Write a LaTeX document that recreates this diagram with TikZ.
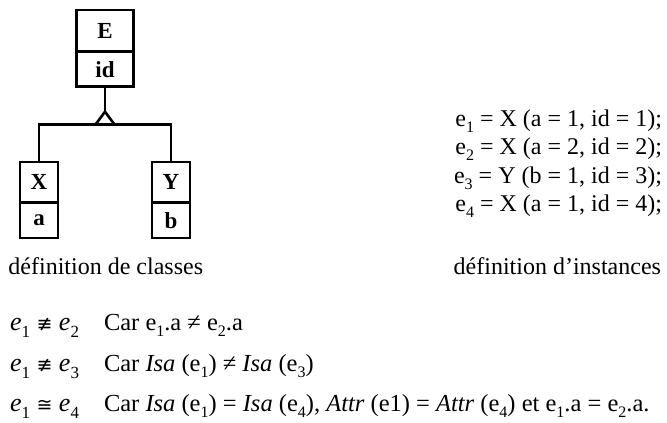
\documentclass[tikz,border=0pt]{standalone}
\usepackage{fontspec}
\setmainfont{Liberation Serif}
\newfontfamily\symfont{DejaVu Sans}
\newcommand{\sbs}[1]{\raisebox{-0.27em}{\fontsize{16}{16}\selectfont #1}}
\newcommand{\msbs}[1]{\raisebox{-0.27em}{\fontsize{17}{17}\selectfont #1}}
\newcommand{\rel}[1]{{\symfont\fontsize{19}{20}\selectfont #1}}
\begin{document}
\begin{tikzpicture}[x=1pt,y=-1pt,
  every node/.style={font=\fontsize{24}{28}\selectfont, inner sep=0pt, outer sep=0pt},
  boxpart/.style={draw, line width=2.6pt, font=\fontsize{23}{27}\selectfont\bfseries, anchor=north},
  txt/.style={anchor=base west},
  cartxt/.style={anchor=base west, font=\fontsize{24.5}{28}\selectfont},
  insttxt/.style={anchor=base east},
  reltxt/.style={anchor=base west, font=\fontsize{26}{30}\selectfont},
  conn/.style={line width=2.6pt}]
\useasboundingbox (0,0) rectangle (667,423);
% class boxes
\node[boxpart, minimum width=56.6pt, minimum height=41.7pt] (Et) at (105,10) {E};
\node[boxpart, minimum width=56.6pt, minimum height=35pt] (Eb) at (Et.south) {id};
\node[boxpart, minimum width=38pt, minimum height=40.5pt] (Xt) at (39,162) {X};
\node[boxpart, minimum width=38pt, minimum height=35.5pt] (Xb) at (Xt.south) {a};
\node[boxpart, minimum width=38pt, minimum height=40.5pt] (Yt) at (171,162) {Y};
\node[boxpart, minimum width=38pt, minimum height=35.5pt] (Yb) at (Yt.south) {b};
% inheritance connector
\coordinate (apex) at (105,111.7);
\coordinate (bl) at (95.7,124.3);
\coordinate (br) at (114.3,124.3);
\coordinate (hub) at (105,124.3);
\draw[conn] (Eb.south) -- (apex);
\draw[conn, line join=miter] (bl) -- (apex) -- (br);
\draw[conn] (Xt.north) |- (hub) -| (Yt.north);
% captions
\node[txt] (cap1) at (8.5,274) {définition de classes};
\node[insttxt] (cap2) at (661,274) {définition d’instances};
% instances
\node[insttxt] (i1) at (662,126) {e\sbs{1} = X (a = 1, id = 1);};
\node[insttxt] (i2) at (662,154.5) {e\sbs{2} = X (a = 2, id = 2);};
\node[insttxt] (i3) at (662,183) {e\sbs{3} = Y (b = 1, id = 3);};
\node[insttxt] (i4) at (662,211.5) {e\sbs{4} = X (a = 1, id = 4);};
% comparisons
\node[reltxt] (r1) at (10,330) {\textit{e}\msbs{1} \rel{≢} \textit{e}\msbs{2}};
\node[reltxt] (r2) at (10,371) {\textit{e}\msbs{1} \rel{≢} \textit{e}\msbs{3}};
\node[reltxt] (r3) at (10,411) {\textit{e}\msbs{1} \rel{≅} \textit{e}\msbs{4}};
\node[cartxt] (c1) at (104,330) {Car e\sbs{1}.a ≠ e\sbs{2}.a};
\node[cartxt] (c2) at (104,371) {Car \textit{Isa} (e\sbs{1}) ≠ \textit{Isa} (e\sbs{3})};
\node[cartxt] (c3) at (104,411) {Car \textit{Isa} (e\sbs{1}) = \textit{Isa} (e\sbs{4}), \textit{Attr} (e1) = \textit{Attr} (e\sbs{4}) et e\sbs{1}.a = e\sbs{2}.a.};
\end{tikzpicture}
\end{document}
